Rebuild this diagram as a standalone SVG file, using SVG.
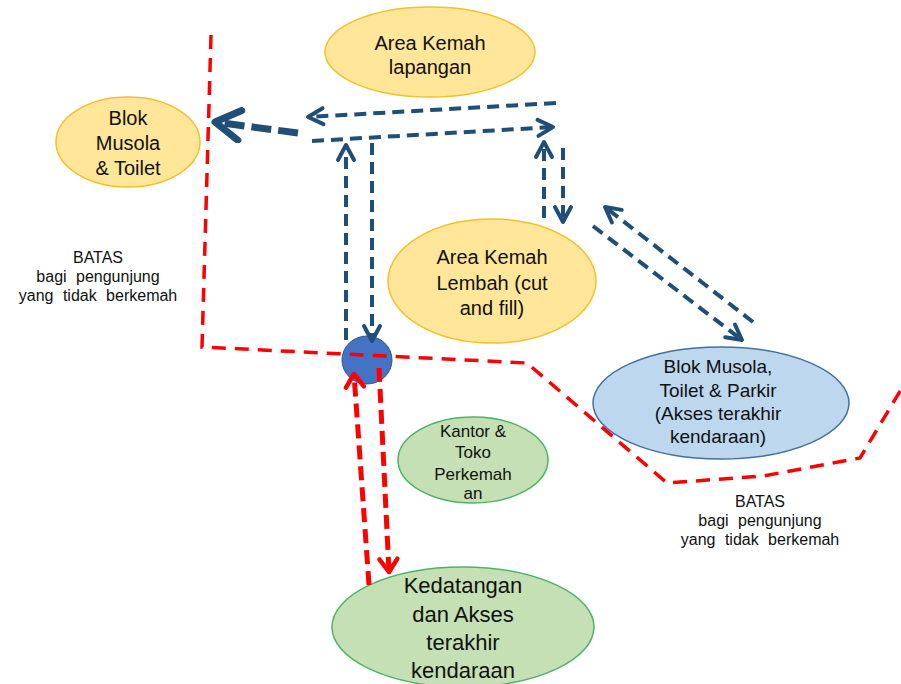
<svg xmlns="http://www.w3.org/2000/svg" width="901" height="684" viewBox="0 0 901 684">
<style>
  text { font-family: "Liberation Sans", Arial, sans-serif; fill: #111; text-anchor: middle; }
  .yel { fill: #FFE699; stroke: #F5BF2A; stroke-width: 1.5; }
  .grn { fill: #C5E0B4; stroke: #4DB366; stroke-width: 1.5; }
  .blu { fill: #BDD7EE; stroke: #41719C; stroke-width: 1.5; }
  .n20 { font-size: 20px; }
  .n17 { font-size: 17px; }
  .n19 { font-size: 19px; }
  .n21 { font-size: 22px; }
  .bat { font-size: 16px; word-spacing: 5px; }
  .ba { fill: none; stroke: #1F4E79; stroke-width: 4; stroke-dasharray: 12 7; }
  .bt { fill: none; stroke: #1F4E79; stroke-width: 7; stroke-dasharray: 20 7; }
  .ra { fill: none; stroke: #FF0000; stroke-width: 5; stroke-dasharray: 14 7; }
  .bd { fill: none; stroke: #FF0000; stroke-width: 3.5; stroke-dasharray: 14 9; }
</style>
<defs>
  <marker id="chevB" markerUnits="userSpaceOnUse" markerWidth="24" markerHeight="24" viewBox="0 0 24 24" refX="20" refY="12" orient="auto">
    <path d="M5,4 L20,12 L5,20" fill="none" stroke="#1F4E79" stroke-width="4" stroke-linecap="round" stroke-linejoin="round"/>
  </marker>
  <marker id="chevT" markerUnits="userSpaceOnUse" markerWidth="36" markerHeight="36" viewBox="0 0 36 36" refX="31" refY="18" orient="auto">
    <path d="M6,3 L31,18 L6,33" fill="none" stroke="#1F4E79" stroke-width="7" stroke-linecap="round" stroke-linejoin="round"/>
  </marker>
  <marker id="chevR" markerUnits="userSpaceOnUse" markerWidth="24" markerHeight="24" viewBox="0 0 24 24" refX="20" refY="12" orient="auto">
    <path d="M7,3 L20,12 L7,21" fill="none" stroke="#FF0000" stroke-width="4.5" stroke-linecap="round" stroke-linejoin="round"/>
  </marker>
</defs>

<g id="node-area-kemah-lapangan">
  <ellipse class="yel" cx="430" cy="52" rx="105" ry="45"/>
  <text class="n20" x="430" y="50">Area Kemah</text>
  <text class="n20" x="430" y="74">lapangan</text>
</g>

<g id="node-blok-musola-toilet">
  <ellipse class="yel" cx="128" cy="142" rx="72" ry="45"/>
  <text class="n20" x="128" y="125">Blok</text>
  <text class="n20" x="128" y="150">Musola</text>
  <text class="n20" x="128" y="175">&amp; Toilet</text>
</g>

<g id="node-area-kemah-lembah">
  <ellipse class="yel" cx="492" cy="281" rx="104" ry="62"/>
  <text class="n20" x="492" y="264">Area Kemah</text>
  <text class="n20" x="492" y="290">Lembah (cut</text>
  <text class="n20" x="492" y="315">and fill)</text>
</g>

<g id="node-blok-musola-parkir">
  <ellipse class="blu" cx="721" cy="403" rx="128" ry="56"/>
  <text class="n19" x="718" y="373">Blok Musola,</text>
  <text class="n19" x="718" y="397">Toilet &amp; Parkir</text>
  <text class="n19" x="718" y="420">(Akses terakhir</text>
  <text class="n19" x="718" y="443">kendaraan)</text>
</g>

<g id="node-kantor-toko">
  <ellipse class="grn" cx="473" cy="460" rx="75" ry="43"/>
  <text class="n17" x="473" y="437">Kantor &amp;</text>
  <text class="n17" x="473" y="458">Toko</text>
  <text class="n17" x="473" y="480">Perkemah</text>
  <text class="n17" x="473" y="499">an</text>
</g>

<g id="node-kedatangan">
  <ellipse class="grn" cx="463" cy="627" rx="131" ry="60"/>
  <text class="n21" x="463" y="593">Kedatangan</text>
  <text class="n21" x="463" y="622">dan Akses</text>
  <text class="n21" x="463" y="650">terakhir</text>
  <text class="n21" x="463" y="678">kendaraan</text>
</g>

<g id="node-junction">
  <ellipse cx="367" cy="360" rx="25" ry="24" fill="#4472C4" stroke="#2F528F" stroke-width="1"/>
</g>

<g id="boundary">
  <polyline class="bd" points="211,35 202,347 527,363 667,483 763,476 860,458 905,383"/>
</g>

<g id="labels">
  <text class="bat" x="98" y="263">BATAS</text>
  <text class="bat" x="98" y="282">bagi pengunjung</text>
  <text class="bat" x="98" y="301">yang tidak berkemah</text>
  <text class="bat" x="760" y="507">BATAS</text>
  <text class="bat" x="760" y="526">bagi pengunjung</text>
  <text class="bat" x="760" y="545">yang tidak berkemah</text>
</g>

<g id="connectors">
  <path class="bt" d="M298,133 L215,122" marker-end="url(#chevT)"/>
  <path class="ba" d="M556,103 L308,117" marker-end="url(#chevB)"/>
  <path class="ba" d="M312,141 L553,127" marker-end="url(#chevB)"/>
  <path class="ba" d="M346,340 L346,145" marker-end="url(#chevB)"/>
  <path class="ba" d="M372,143 L372,341" marker-end="url(#chevB)"/>
  <path class="ba" d="M544,218 L544,142" marker-end="url(#chevB)"/>
  <path class="ba" d="M563,148 L563,222" marker-end="url(#chevB)"/>
  <path class="ba" d="M753,322 L605,207" marker-end="url(#chevB)"/>
  <path class="ba" d="M593,226 L742,340" marker-end="url(#chevB)"/>
  <path class="ra" d="M369,585 L354,374" marker-end="url(#chevR)"/>
  <path class="ra" d="M379,368 L389,572" marker-end="url(#chevR)"/>
</g>
</svg>
